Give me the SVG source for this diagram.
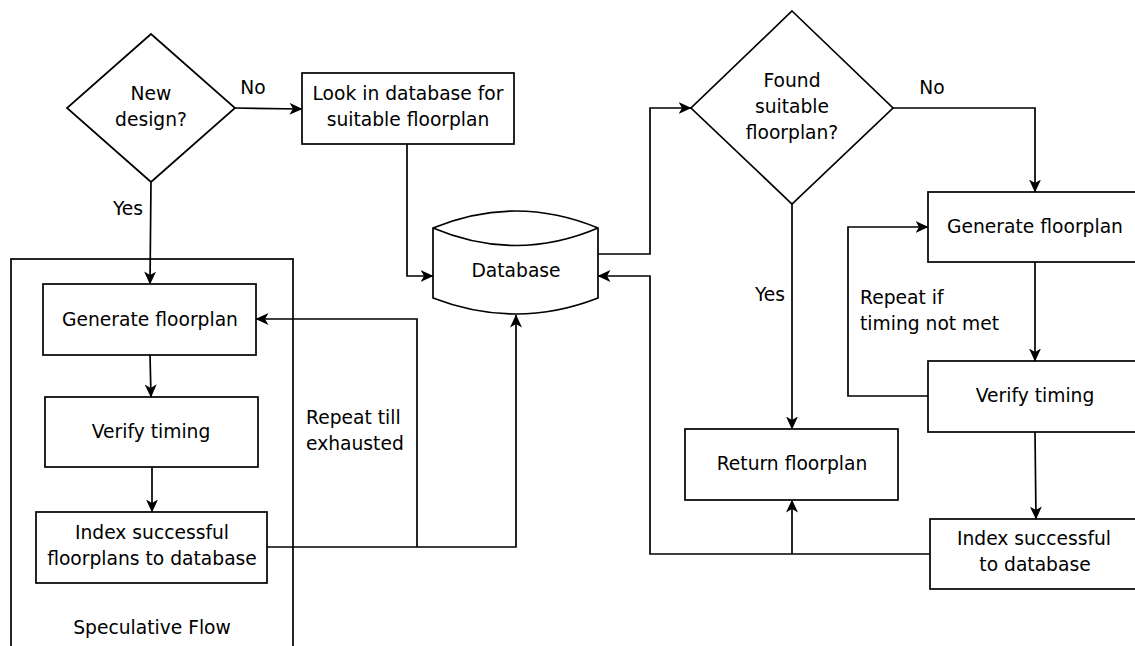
<svg xmlns="http://www.w3.org/2000/svg" width="1135" height="646" viewBox="0 0 1135 646">
  <style>
    .shape { fill: #ffffff; stroke: #000000; stroke-width: 1.7; }
    .frame { fill: none; stroke: #000000; stroke-width: 1.7; }
    .wire { fill: none; stroke: #000000; stroke-width: 1.7; }
    .arrow { marker-end: url(#head); }
    text { font-family: "DejaVu Sans", "Liberation Sans", sans-serif; font-size: 18.7px; fill: #000000; }
    .c { text-anchor: middle; }
  </style>
  <defs>
    <marker id="head" viewBox="0 0 13 12" refX="12.5" refY="6" markerWidth="13" markerHeight="12" markerUnits="userSpaceOnUse" orient="auto">
      <path d="M0,0 L13,6 L0,12 L3.5,6 Z" fill="#000000"/>
    </marker>
  </defs>

  <rect width="1135" height="646" fill="#ffffff"/>

  <!-- speculative flow container -->
  <g id="speculative-flow">
    <rect class="frame" x="11" y="259" width="282" height="400"/>
    <text class="c" x="152" y="634">Speculative Flow</text>
  </g>

  <!-- connectors -->
  <g id="connectors">
    <path class="wire arrow" d="M235,108 L302,109"/>
    <path class="wire arrow" d="M151,182 L150,284"/>
    <path class="wire arrow" d="M407,144 L407,276 L433,276"/>
    <path class="wire arrow" d="M150,355 L151,397"/>
    <path class="wire arrow" d="M152,467 L152,512"/>
    <path class="wire arrow" d="M267,547 L516,547 L516,315"/>
    <path class="wire arrow" d="M417,547 L417,319 L256,319"/>
    <path class="wire arrow" d="M598,254 L650,254 L650,108 L691,108"/>
    <path class="wire arrow" d="M893,108 L1035,108 L1035,192"/>
    <path class="wire arrow" d="M792,204 L792,429"/>
    <path class="wire arrow" d="M1035,262 L1035,361"/>
    <path class="wire arrow" d="M928,396 L848,396 L848,227 L928,227"/>
    <path class="wire arrow" d="M1035,432 L1036,519"/>
    <path class="wire arrow" d="M930,554 L650,554 L650,276 L598,276"/>
    <path class="wire arrow" d="M792,554 L792,500"/>
  </g>

  <!-- connector labels -->
  <g id="labels">
    <text class="c" x="253" y="94">No</text>
    <text class="c" x="128" y="215">Yes</text>
    <text x="306" y="424">Repeat till</text>
    <text x="306" y="450">exhausted</text>
    <text class="c" x="932" y="94">No</text>
    <text class="c" x="770" y="301">Yes</text>
    <text x="860" y="304">Repeat if</text>
    <text x="860" y="330">timing not met</text>
  </g>

  <g id="new-design">
    <path class="shape" d="M151,34 L235,108 L151,182 L67,108 Z"/>
    <text class="c" x="151" y="100">New</text>
    <text class="c" x="151" y="126">design?</text>
  </g>

  <g id="look-in-database">
    <rect class="shape" x="302" y="73" width="212" height="71"/>
    <text class="c" x="408" y="100">Look in database for</text>
    <text class="c" x="408" y="126">suitable floorplan</text>
  </g>

  <g id="database">
    <path class="shape" d="M433,228 Q516,194 598,228 L598,298 Q516,330 433,298 Z"/>
    <path class="frame" d="M433,228 Q516,263 598,228"/>
    <text class="c" x="516" y="277">Database</text>
  </g>

  <g id="generate-floorplan-spec">
    <rect class="shape" x="43" y="284" width="213" height="71"/>
    <text class="c" x="150" y="326">Generate floorplan</text>
  </g>

  <g id="verify-timing-spec">
    <rect class="shape" x="45" y="397" width="213" height="70"/>
    <text class="c" x="151" y="438">Verify timing</text>
  </g>

  <g id="index-spec">
    <rect class="shape" x="36" y="512" width="231" height="71"/>
    <text class="c" x="152" y="539">Index successful</text>
    <text class="c" x="152" y="565">floorplans to database</text>
  </g>

  <g id="found-suitable">
    <path class="shape" d="M792,11 L893,108 L792,204 L691,108 Z"/>
    <text class="c" x="792" y="87">Found</text>
    <text class="c" x="792" y="113">suitable</text>
    <text class="c" x="792" y="139">floorplan?</text>
  </g>

  <g id="return-floorplan">
    <rect class="shape" x="685" y="429" width="213" height="71"/>
    <text class="c" x="792" y="470">Return floorplan</text>
  </g>

  <g id="generate-floorplan">
    <rect class="shape" x="928" y="192" width="214" height="70"/>
    <text class="c" x="1035" y="233">Generate floorplan</text>
  </g>

  <g id="verify-timing">
    <rect class="shape" x="928" y="361" width="214" height="71"/>
    <text class="c" x="1035" y="402">Verify timing</text>
  </g>

  <g id="index-successful">
    <rect class="shape" x="930" y="519" width="214" height="70"/>
    <text class="c" x="1034" y="545">Index successful</text>
    <text class="c" x="1035" y="571">to database</text>
  </g>
</svg>
